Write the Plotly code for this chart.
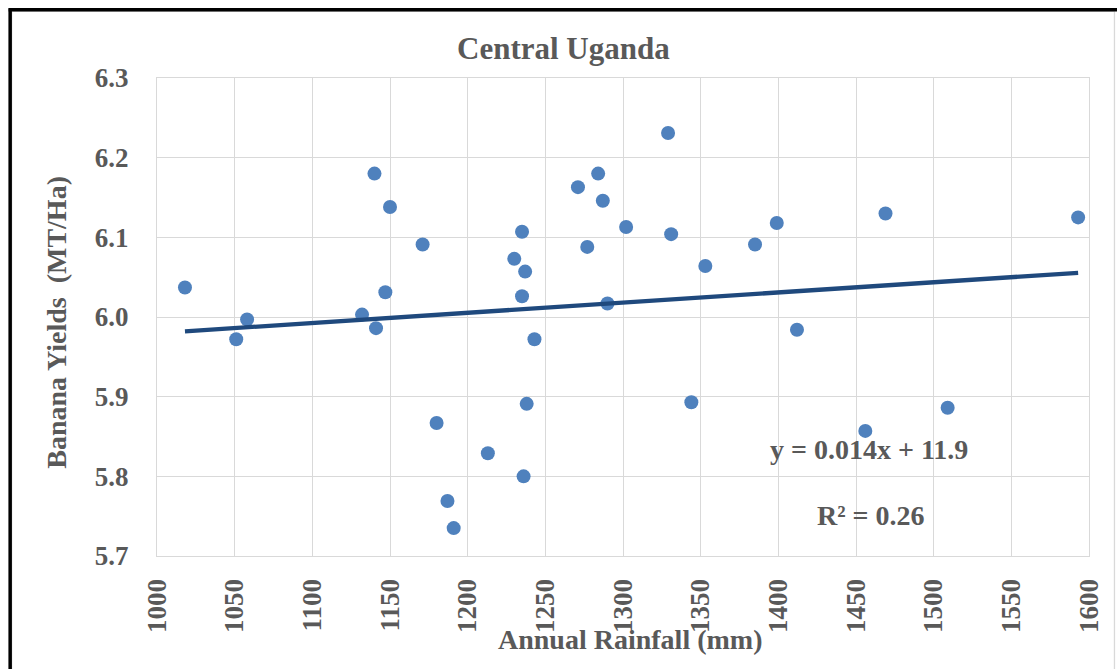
import plotly.graph_objects as go

# Annual rainfall (mm) and banana yields (MT/Ha), Central Uganda
rainfall = [1018, 1051, 1058, 1132, 1141, 1147, 1140, 1150, 1171, 1180,
            1187, 1191, 1213, 1236, 1238, 1243, 1235, 1237, 1230, 1235,
            1271, 1284, 1287, 1277, 1302, 1290, 1329, 1331, 1344, 1353,
            1385, 1399, 1412, 1456, 1469, 1509, 1593]
yields = [6.037, 5.972, 5.997, 6.003, 5.986, 6.031, 6.180, 6.138, 6.091, 5.867,
          5.769, 5.735, 5.829, 5.800, 5.891, 5.972, 6.026, 6.057, 6.073, 6.107,
          6.163, 6.180, 6.146, 6.088, 6.113, 6.017, 6.231, 6.104, 5.893, 6.064,
          6.091, 6.118, 5.984, 5.857, 6.130, 5.886, 6.125]

# Linear trendline end points
trend_x = [1018, 1593]
trend_y = [5.982, 6.0555]

x_ticks = list(range(1000, 1601, 50))
y_ticks = [5.7, 5.8, 5.9, 6.0, 6.1, 6.2, 6.3]
y_tick_text = ["5.7", "5.8", "5.9", "6.0", "6.1", "6.2", "6.3"]

FONT = "Liberation Serif, Times New Roman, serif"
GREY = "#595959"
GRID = "#d9d9d9"

fig = go.Figure()
fig.add_trace(go.Scatter(
    x=rainfall, y=yields, mode="markers",
    marker=dict(size=14, color="#4F81BD", line=dict(width=0)),
    showlegend=False, hoverinfo="x+y"))
fig.add_trace(go.Scatter(
    x=trend_x, y=trend_y, mode="lines",
    line=dict(color="#1F497D", width=4.3),
    showlegend=False, hoverinfo="skip"))

L, R, T, B = 156.5, 27.5, 77.7, 113
W, H = 1117, 669
pw, ph = W - L - R, H - T - B


def px(xp):
    return (xp - L) / pw


def py(yp):
    return (H - B - yp) / ph


fig.update_layout(
    width=W, height=H,
    margin=dict(l=L, r=R, t=T, b=B),
    paper_bgcolor="white", plot_bgcolor="white",
    font=dict(family=FONT, color=GREY),
    xaxis=dict(range=[1000, 1600], tickmode="array", tickvals=x_ticks,
               tickangle=-90, showgrid=True, gridcolor=GRID, gridwidth=1.3,
               zeroline=False, showline=True, linecolor=GRID, linewidth=1.3,
               mirror=True, ticks="", ticklabelstandoff=11,
               tickfont=dict(family=FONT, size=27, color=GREY, weight="bold")),
    yaxis=dict(range=[5.7, 6.3], tickmode="array", tickvals=y_ticks,
               ticktext=y_tick_text, showgrid=True, gridcolor=GRID,
               gridwidth=1.3, zeroline=False, showline=True, linecolor=GRID,
               linewidth=1.3, mirror=True, ticks="", ticklabelstandoff=22,
               tickfont=dict(family=FONT, size=27, color=GREY, weight="bold")),
)

annotations = [
    dict(text="Central Uganda", x=px(563), y=py(48), size=31),
    dict(text="Annual Rainfall (mm)", x=px(630), y=py(640), size=28),
    dict(text="Banana Yields  (MT/Ha)", x=px(56), y=py(322), size=28, angle=-90),
    dict(text="y = 0.014x + 11.9", x=px(869), y=py(449), size=28),
    dict(text="R² = 0.26", x=px(871), y=py(515), size=28),
]
for a in annotations:
    fig.add_annotation(
        text=a["text"], x=a["x"], y=a["y"], xref="paper", yref="paper",
        xanchor="center", yanchor="middle", showarrow=False,
        textangle=a.get("angle", 0),
        font=dict(family=FONT, size=a["size"], color=GREY, weight="bold"))

# Chart-area outline and the black frame around the figure
fig.add_shape(type="rect", xref="paper", yref="paper",
              x0=px(11), x1=px(1115), y0=py(11), y1=py(700),
              line=dict(color=GRID, width=1.3), layer="below")
fig.add_shape(type="line", xref="paper", yref="paper",
              x0=px(8), x1=px(1120), y0=py(9.5), y1=py(9.5),
              line=dict(color="black", width=3.5))
fig.add_shape(type="line", xref="paper", yref="paper",
              x0=px(9.5), x1=px(9.5), y0=py(8), y1=py(700),
              line=dict(color="black", width=3.5))

fig.write_html("out.html")
